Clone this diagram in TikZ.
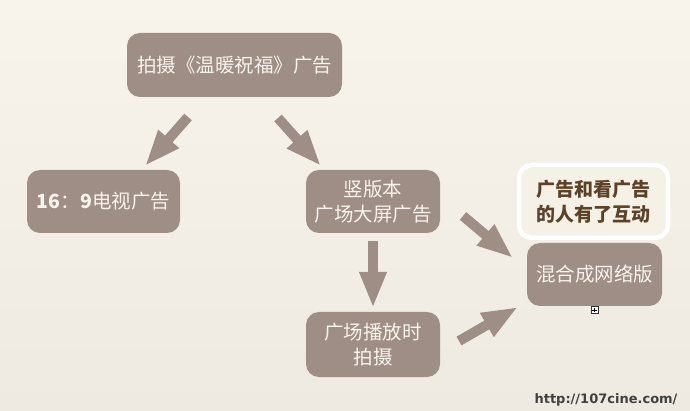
\documentclass[tikz,border=0pt]{standalone}
\usepackage{fontspec}
\setmainfont{Noto Sans CJK SC}
\newfontfamily\wmfont{DejaVu Sans}
\usetikzlibrary{arrows.meta,calc}
\definecolor{boxfill}{RGB}{158,142,133}
\definecolor{boxtext}{RGB}{248,243,236}
\definecolor{bgtop}{RGB}{248,244,235}
\definecolor{bgbot}{RGB}{238,234,226}
\definecolor{notetext}{RGB}{92,66,40}
\definecolor{notefill}{RGB}{246,241,231}
\tikzset{
  x=1pt,y=-1pt,
  stepbox/.style={draw=none,fill=boxfill,rounded corners=13pt,text=boxtext,
    font=\fontsize{19.5}{25}\selectfont,align=center,inner sep=0pt},
  notebox/.style={draw=white,line width=4.5pt,fill=notefill,rounded corners=13pt,
    text=notetext,font=\bfseries\fontsize{19}{25}\selectfont,align=center,inner sep=0pt},
  fat/.style={draw=boxfill,line width=10pt,-{Triangle[length=36pt,width=25pt]}}
}
\begin{document}
\begin{tikzpicture}
\shade[top color=bgtop,bottom color=bgbot] (0,0) rectangle (690,411);
\useasboundingbox (0,0) rectangle (690,411);
\node[stepbox,minimum width=215pt,minimum height=64pt] (top) at (234.5,65) {拍摄《温暖祝福》广告};
\node[stepbox,minimum width=153pt,minimum height=63pt] (tv) at (103.5,201.5) {\textbf{16}：\textbf{9}电视广告};
\node[stepbox,minimum width=134pt,minimum height=63pt] (vert) at (373,201.5) {竖版本\\广场大屏广告};
\node[stepbox,minimum width=134pt,minimum height=65pt] (shoot) at (373,344.5) {广场播放时\\拍摄};
\node[stepbox,minimum width=135pt,minimum height=63pt] (mix) at (594.5,274.5) {混合成网络版};
\node[notebox,minimum width=149pt,minimum height=73pt] (note) at (593.5,201.5) {广告和看广告\\的人有了互动};
\coordinate (a1s) at (188,117); \coordinate (a1e) at (145,166);
\coordinate (a2s) at (278,118); \coordinate (a2e) at (321,166);
\coordinate (a3s) at (373,241); \coordinate (a3e) at (373,308);
\coordinate (a4s) at (463,216); \coordinate (a4e) at (513,258);
\coordinate (a5s) at (459,341); \coordinate (a5e) at (518,307);
\draw[fat] (a1s) -- (a1e);
\draw[fat] (a2s) -- (a2e);
\draw[fat] (a3s) -- (a3e);
\draw[fat] (a4s) -- (a4e);
\draw[fat] (a5s) -- (a5e);
\node[draw=black!80,line width=0.6pt,fill=white,minimum size=7pt,inner sep=0pt] (ico) at (594.5,310) {};
\draw[line width=0.6pt] ($(ico.north)+(0,1.5)$) -- ($(ico.south)+(0,-1.5)$);
\draw[line width=0.6pt] ($(ico.west)+(1.5,0)$) -- ($(ico.east)+(-1.5,0)$);
\node[text=black!75,font=\wmfont\bfseries\fontsize{13}{15}\selectfont] (wm) at (606,400) {http://107cine.com/};
\end{tikzpicture}
\end{document}
